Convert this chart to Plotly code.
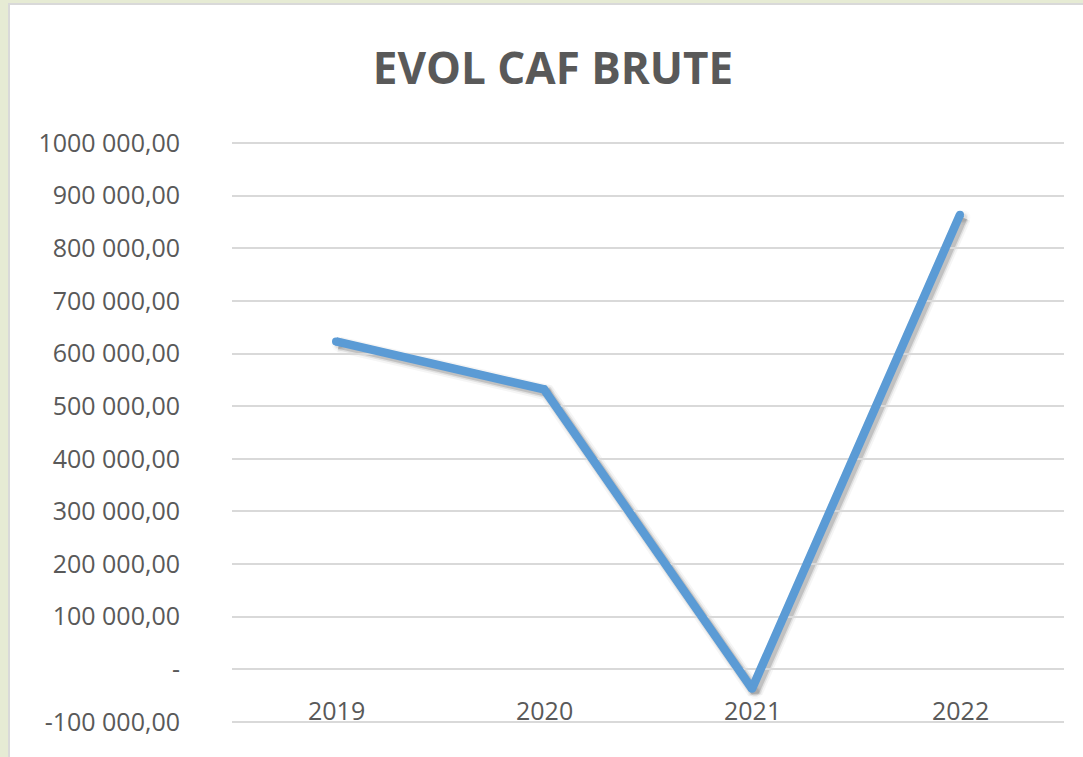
import plotly.graph_objects as go

# data
years = ["2019", "2020", "2021", "2022"]
caf_brute = [623000, 532000, -37000, 864000]

y_tickvals = [-100000, 0, 100000, 200000, 300000, 400000, 500000,
              600000, 700000, 800000, 900000, 1000000]
y_ticktext = ["-100 000,00", "-", "100 000,00", "200 000,00", "300 000,00",
              "400 000,00", "500 000,00", "600 000,00", "700 000,00",
              "800 000,00", "900 000,00", "1000 000,00"]

W, H = 1083, 757
ML, MR, MT, MB = 232, 16, 142, 31
pw = W - ML - MR
ph = H - MT - MB
sh = 3  # shadow offset in px

grey_txt = "#595959"
grid = "#D9D9D9"
blue = "#5B9BD5"
y_range = [-102000, 1002000]


def px_x(p):
    return (p - ML) / pw


def px_y(p):
    return (H - MB - p) / ph


fig = go.Figure()

# soft drop shadow: same data on a twin subplot shifted a few px down-right
for w, a in [(16, 0.04), (12, 0.08), (9, 0.14)]:
    fig.add_trace(go.Scatter(x=years, y=caf_brute, mode="lines+markers",
                             xaxis="x", yaxis="y", hoverinfo="skip",
                             showlegend=False,
                             marker=dict(size=w - 1,
                                         color="rgba(0,0,0,%s)" % (a / 2)),
                             line=dict(color="rgba(0,0,0,%s)" % a, width=w)))

# markers give the round line ends Excel draws
fig.add_trace(go.Scatter(x=years, y=caf_brute, mode="lines+markers",
                         name="CAF brute", xaxis="x2", yaxis="y2",
                         showlegend=False,
                         marker=dict(size=8, color=blue),
                         line=dict(color=blue, width=8.5)))

# category labels sit just above the bottom gridline, like in Excel
# (x given as category index, numeric-looking strings get misread)
for i, yr in enumerate(years):
    fig.add_annotation(x=i, y=y_tickvals[0], xref="x2", yref="y2",
                       text=yr, showarrow=False, yanchor="bottom", yshift=-7,
                       font=dict(size=25, color=grey_txt, family="Open Sans"))

fig.update_layout(
    width=W, height=H,
    margin=dict(l=ML, r=MR, t=MT, b=MB),
    paper_bgcolor="#E6EBD4",
    plot_bgcolor="rgba(0,0,0,0)",
    font=dict(family="Open Sans", color=grey_txt),
    title=dict(text="<b>EVOL CAF BRUTE</b>", x=553 / W, xanchor="center",
               xref="container", y=1 - 69 / H, yanchor="middle",
               yref="container",
               font=dict(size=44, color=grey_txt, family="Open Sans")),
    # shadow axes
    xaxis=dict(domain=[sh / pw, 1], type="category", range=[-0.5, 3.5],
               visible=False, anchor="y"),
    yaxis=dict(domain=[0, (ph - sh) / ph], range=y_range,
               visible=False, anchor="x"),
    # visible axes
    xaxis2=dict(domain=[0, (pw - sh) / pw], type="category",
                range=[-0.5, 3.5], anchor="y2",
                showgrid=False, zeroline=False, showline=False,
                ticks="", showticklabels=False),
    yaxis2=dict(domain=[sh / ph, 1], range=y_range, anchor="x2",
                tickvals=y_tickvals, ticktext=y_ticktext,
                showgrid=True, gridcolor=grid, gridwidth=2,
                zeroline=False, showline=False,
                ticks="outside", ticklen=46, tickcolor="rgba(0,0,0,0)",
                tickfont=dict(size=25, color=grey_txt)),
)

# white chart box on the slide background
fig.add_shape(type="rect", xref="paper", yref="paper", layer="below",
              x0=px_x(9), x1=px_x(1110), y0=px_y(790), y1=px_y(4),
              fillcolor="white", line=dict(color=grid, width=2))

fig.write_html("out.html", config={"displayModeBar": False},
               post_script="document.body.style.margin='0';")
